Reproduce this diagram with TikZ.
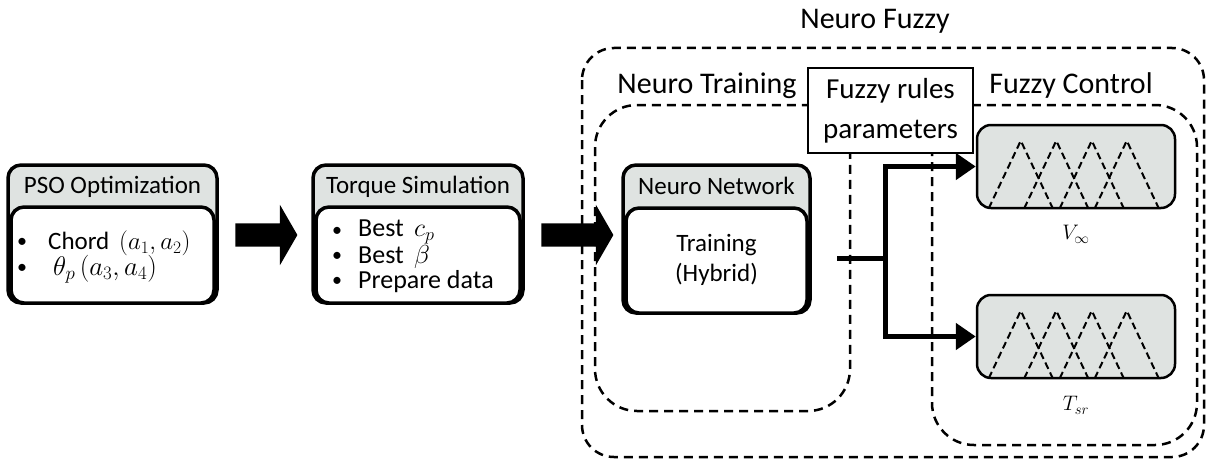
\RequirePackage{fix-cm}
\documentclass[tikz,border=0pt]{standalone}
\usepackage{fontspec}
\setmainfont{Carlito}
\usetikzlibrary{arrows.meta,shapes.arrows,calc}
\definecolor{hdr}{RGB}{223,227,225}
\begin{document}
\begin{tikzpicture}[x=1pt,y=-1pt,
  outerbox/.style={draw, line width=3.5pt, rounded corners=13pt, fill=hdr, inner sep=0pt},
  innerbox/.style={draw, line width=3.5pt, rounded corners=13pt, fill=white, inner sep=0pt},
  hdrtext/.style={font=\fontsize{25}{30}\selectfont, inner sep=0pt},
  bodytext/.style={font=\fontsize{25}{28}\selectfont, inner sep=0pt, anchor=west},
  bul/.style={font=\fontsize{20}{22}\selectfont, inner sep=0pt},
  region/.style={draw, dash pattern=on 9pt off 6pt, line width=2.5pt, rounded corners=#1},
  region/.default=40pt,
  regionlabel/.style={font=\fontsize{30}{34}\selectfont, inner sep=0pt},
  blockarrow/.style={single arrow, fill=black, draw=none, inner sep=11.5pt, single arrow head extend=18.5pt, single arrow tip angle=120, minimum height=#1},
  fzbox/.style={draw, line width=2.5pt, rounded corners=14pt, fill=hdr, minimum width=198pt, minimum height=83pt, inner sep=0pt},
  tri/.style={dash pattern=on 7pt off 4pt, line width=2pt},
  conn/.style={line width=5pt},
  connarrow/.style={line width=5pt, -{Triangle[length=20pt,width=26pt]}},
  rulebox/.style={draw, line width=2pt, fill=white, minimum width=165pt, minimum height=85pt, inner sep=0pt, align=center, font=\fontsize{29}{40}\selectfont}
]
\useasboundingbox (0,0) rectangle (1207,460);

% regions
\draw[region=32pt] (582,48) rectangle (1204,457);
\draw[region=42pt] (595,105) rectangle (850,411);
\draw[region=42pt] (932,105) rectangle (1197,445);
\node[regionlabel] (lnf) at (875,21) {Neuro Fuzzy};
\node[regionlabel] (lnt) at (707,86) {Neuro Training};
\node[regionlabel] (lfc) at (1071,86) {Fuzzy Control};

% PSO box
\node[outerbox, minimum width=209pt, minimum height=138pt] (pso) at (112.5,234) {};
\node[innerbox, minimum width=203pt, minimum height=96pt] (psoin) at (112.5,255) {};
\node[hdrtext] (psoh) at (112.5,187) {PSO Optimization};
\node[bul] (pb1) at (22,243) {\textbullet};
\node[bodytext] (pt1) at (48,243) {Chord\, $(a_1, a_2)$};
\node[bul] (pb2) at (22,269) {\textbullet};
\node[bodytext] (pt2) at (53,269) {\fontsize{27}{28}\selectfont$\theta_p\,(a_3, a_4)$};

% Torque box
\node[outerbox, minimum width=210pt, minimum height=138pt] (tq) at (418,234) {};
\node[innerbox, minimum width=204pt, minimum height=96pt] (tqin) at (418,255) {};
\node[hdrtext] (tqh) at (418,187) {Torque Simulation};
\node[bul] (tb1) at (337,232) {\textbullet};
\node[bodytext, font=\fontsize{26}{28}\selectfont] (tt1) at (358,232) {Best\, $c_p$};
\node[bul] (tb2) at (337,257) {\textbullet};
\node[bodytext, font=\fontsize{26}{28}\selectfont] (tt2) at (358,257) {Best\, $\beta$};
\node[bul] (tb3) at (337,282) {\textbullet};
\node[bodytext, font=\fontsize{26}{28}\selectfont] (tt3) at (358,282) {Prepare data};

% Neuro network box
\node[outerbox, minimum width=187pt, minimum height=148pt] (nn) at (716.5,239) {};
\node[innerbox, minimum width=181pt, minimum height=105pt] (nnin) at (716.5,260.5) {};
\node[hdrtext] (nnh) at (716.5,186) {Neuro Network};
\node[hdrtext, align=center, font=\fontsize{25}{30}\selectfont] (nnt) at (716.5,260) {Training\\(Hybrid)};

% block arrows
\node[blockarrow=62pt] (a1) at (263,235) {};
\node[blockarrow=72pt] (a2) at (574,235) {};

% fuzzy rules box
\node[rulebox] (rules) at (890.5,110.5) {Fuzzy rules\\parameters};

% fuzzy sets
\node[fzbox] (fz1) at (1076,166.5) {};
\node[fzbox] (fz2) at (1076,336.5) {};
\foreach \f in {fz1,fz2}{
  \foreach \dx in {45,80.5,116,151}{
    \draw[tri] ($(\f.south west)+(\dx-32,-1)$) -- ($(\f.north west)+(\dx,17)$) -- ($(\f.south west)+(\dx+32,-1)$);
  }
}
\node[font=\fontsize{21}{24}\selectfont, inner sep=0pt] (lv) at ($(fz1.south)+(0,25)$) {$V_\infty$};
\node[font=\fontsize{21}{24}\selectfont, inner sep=0pt] (lt) at ($(fz2.south)+(0,26)$) {$T_{sr}$};

% connector
\coordinate (s) at (837,258);
\coordinate (j) at (885,258);
\draw[conn] (s) -- (j);
\draw[connarrow] ($(j)+(0,2.5)$) |- (fz1.west);
\draw[connarrow] ($(j)+(0,-2.5)$) |- (fz2.west);
\end{tikzpicture}
\end{document}
